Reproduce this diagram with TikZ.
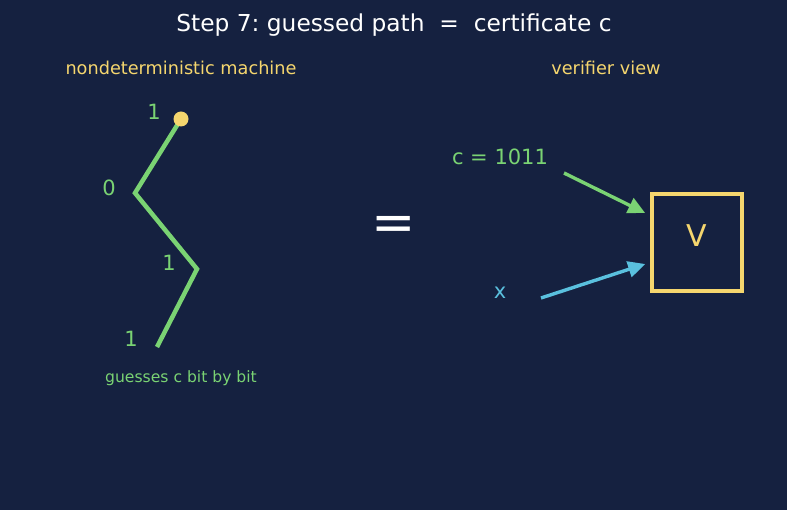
\documentclass[tikz,border=0pt]{standalone}
\usepackage{fontspec}
\setmainfont{DejaVu Sans}
\usetikzlibrary{arrows.meta}
\usetikzlibrary{calc}
\frenchspacing

\definecolor{NightBg}{RGB}{21,33,64}
\definecolor{PathGreen}{RGB}{122,211,115}
\definecolor{BoxGold}{RGB}{245,214,110}
\definecolor{InCyan}{RGB}{90,192,222}

\tikzset{
    bitlabel/.style={text=PathGreen, font=\fontsize{21}{25}\selectfont},
    headline/.style={text=BoxGold, font=\fontsize{17.7}{21}\selectfont},
    feed/.style={-{Triangle[length=17pt,width=16pt]}, line width=3.4pt},
}

\begin{document}
\begin{tikzpicture}[x=1pt, y=-1pt]
            % background and bounding box
            \fill [NightBg] (0,0) rectangle (787,510);
            \useasboundingbox (0,0) rectangle (787,510);

            % Title
            \node (title) at (394,25) [text=white, font=\fontsize{23.3}{27}\selectfont]
                {Step 7: guessed path\ \ =\ \ certificate c};
            \node (lefthead)  at (181,68) [headline] {nondeterministic machine};
            \node (righthead) at (606,68) [headline] {verifier view};

            % Guessed path
            \coordinate (g0) at (181,119);
            \coordinate (g1) at (135,193);
            \coordinate (g2) at (197,269);
            \coordinate (g3) at (157,347);
            \draw [line width=4.5pt, color=PathGreen, line join=miter] (g0) -- (g1) -- (g2) -- (g3);
            \fill [BoxGold] (g0) circle (7.5);
            \node (b0) at (154,112) [bitlabel] {1};
            \node (b1) at (109,188) [bitlabel] {0};
            \node (b2) at (169,263) [bitlabel] {1};
            \node (b3) at (131,339) [bitlabel] {1};
            \node (guess) at (181,378) [text=PathGreen, font=\fontsize{15.6}{18}\selectfont] {guesses c bit by bit};

            % equals sign
            \node (eq) at (394,228) [text=white, font=\fontsize{53}{58}\selectfont] {=};

            % Verifier
            \node (verif) at (697,242.5) [draw=BoxGold, line width=3.7pt, minimum width=90, minimum height=97] {};
            \node (vname) at ($(verif.center)+(0,-7)$) [text=BoxGold, font=\fontsize{30}{34}\selectfont] {V};
            \node (cert) at (500,157) [bitlabel] {c = 1011};
            \node (inp)  at (500,293) [text=InCyan, font=\fontsize{21}{25}\selectfont] {x};
            \coordinate (certtail) at (564,173);
            \coordinate (inptail)  at (541,298);
            \draw [feed, color=PathGreen] (certtail) -- ($(verif.west)+(-5,-29.5)$);
            \draw [feed, color=InCyan] (inptail) -- ($(verif.west)+(-5,21.5)$);
        \end{tikzpicture}
\end{document}
